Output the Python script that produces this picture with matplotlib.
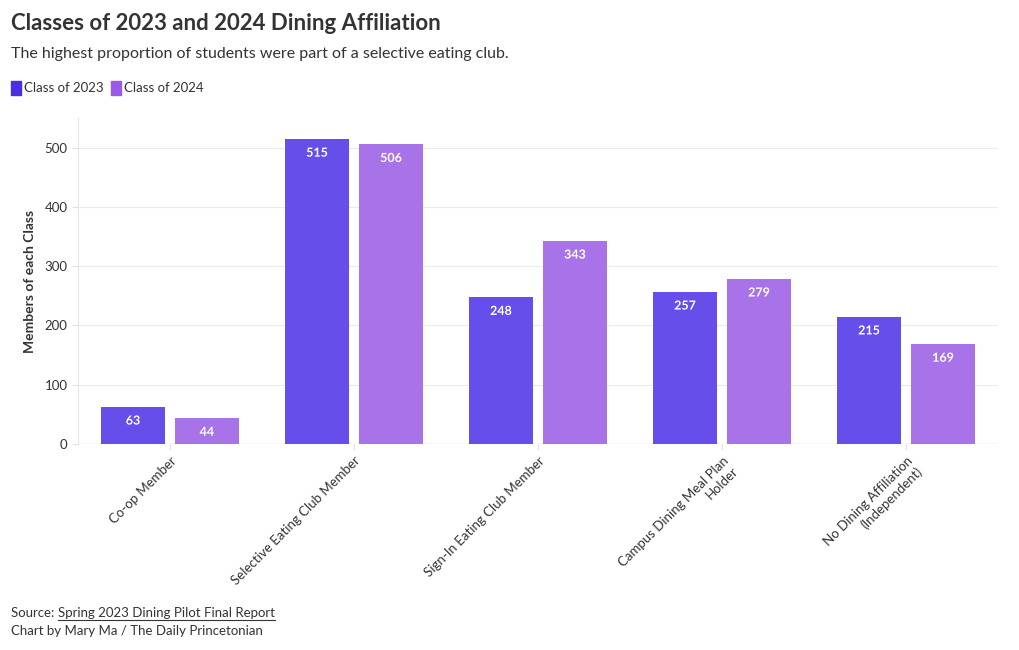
import matplotlib.pyplot as plt
import numpy as np
import matplotlib.patheffects as pe
from matplotlib.lines import Line2D

plt.rcParams['font.family'] = ['Lato', 'DejaVu Sans']

categories = ['Co-op Member', 'Selective Eating Club Member', 'Sign-In Eating Club Member',
              'Campus Dining Meal Plan\nHolder', 'No Dining Affiliation\n(Independent)']
class_2023 = [63, 515, 248, 257, 215]
class_2024 = [44, 506, 343, 279, 169]
series_names = ['Class of 2023', 'Class of 2024']
colors = ['#654eea', '#a873e8']
legend_colors = ['#4b2de2', '#9b5ae6']
yticks = [0, 100, 200, 300, 400, 500]

fig = plt.figure(figsize=(10.2, 6.5), dpi=100)
ax = fig.add_axes([78/1020, 1-444/650, 920/1020, 326/650])

x = np.arange(len(categories))
w = 64/184
off = 37/184
text_col = '#333333'

for vals, col, d in [(class_2023, colors[0], -off), (class_2024, colors[1], off)]:
    bars = ax.bar(x + d, vals, width=w, color=col, zorder=3)
    for b, v in zip(bars, vals):
        ax.annotate(str(v), (b.get_x() + b.get_width()/2, v), xytext=(0, -10),
                    textcoords='offset points', ha='center', va='center',
                    color='white', fontsize=9, fontweight='bold', zorder=4,
                    path_effects=[pe.withStroke(linewidth=2.5, foreground=col)])

ax.set_xlim(-0.5, len(categories) - 0.5)
ax.set_ylim(0, 550)
ax.set_yticks(yticks)
ax.yaxis.grid(True, color='#ebebeb', linewidth=0.8, zorder=0)
ax.axhline(0, color='#e0e0e0', linewidth=1, zorder=2)
for s in ['top', 'right', 'bottom']:
    ax.spines[s].set_visible(False)
ax.spines['left'].set_color('#e6e6e6')
ax.tick_params(axis='y', length=4, color='#e0e0e0', labelsize=9.5, labelcolor=text_col)
ax.tick_params(axis='x', length=4, color='#e0e0e0', labelsize=9.5, labelcolor=text_col)
ax.set_xticks(x)
ax.set_xticklabels(categories, rotation=45, ha='right', rotation_mode='anchor')
ax.set_ylabel('Members of each Class', fontsize=10, fontweight='bold', color=text_col, labelpad=6)

fig.text(11/1020, 1-24/650, 'Classes of 2023 and 2024 Dining Affiliation', fontsize=16,
         fontweight='bold', color=text_col, va='center')
fig.text(11/1020, 1-54/650, 'The highest proportion of students were part of a selective eating club.',
         fontsize=11.5, color=text_col, va='center')

# legend
lx = 11
for name, c in zip(series_names, legend_colors):
    fig.patches.append(plt.Rectangle((lx/1020, 1-95/650), 10/1020, 14/650,
                                     transform=fig.transFigure, color=c))
    t = fig.text((lx + 13)/1020, 1-88/650, name, fontsize=9.5, color=text_col, va='center')
    fig.canvas.draw()
    bb = t.get_window_extent()
    lx = bb.x1 + 7

fig.text(11/1020, 1-613/650, 'Source: ', fontsize=9.5, color=text_col, va='center')
fig.canvas.draw()
r = fig.canvas.get_renderer()
s0 = fig.texts[-1].get_window_extent(r)
src = fig.text(s0.x1/1020, 1-613/650, 'Spring 2023 Dining Pilot Final Report', fontsize=9.5,
               color=text_col, va='center')
fig.canvas.draw()
sb = src.get_window_extent(r)
fig.lines.append(Line2D([sb.x0/1020, sb.x1/1020], [(sb.y0 - 1)/650]*2, transform=fig.transFigure,
                        color=text_col, linewidth=0.8))
fig.text(11/1020, 1-631/650, 'Chart by Mary Ma / The Daily Princetonian', fontsize=9.5,
         color=text_col, va='center')

fig.savefig('out.png', dpi=100)
